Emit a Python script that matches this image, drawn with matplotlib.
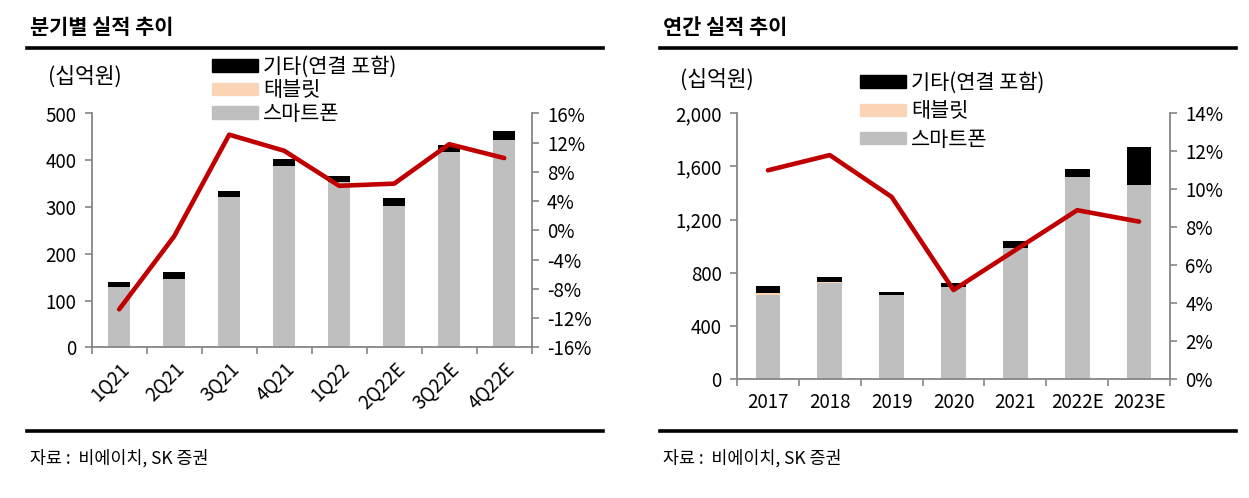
import numpy as np
import matplotlib.pyplot as plt
import matplotlib as mpl
from matplotlib.patches import Patch
from matplotlib.ticker import FuncFormatter, FixedLocator

plt.rcParams['font.family'] = ['Noto Sans CJK KR', 'DejaVu Sans']

# quarterly data (십억원, %)
quarters = ['1Q21', '2Q21', '3Q21', '4Q21', '1Q22', '2Q22E', '3Q22E', '4Q22E']
q_phone = [129, 147, 322, 387, 354, 303, 417, 444]
q_tablet = [1, 0, 0, 0, 0, 0, 0, 0]
q_other = [9, 14, 12, 15, 12, 17, 15, 19]
q_opm = [-10.8, -0.8, 13.1, 10.9, 6.1, 6.4, 11.8, 9.9]

# annual data
years = ['2017', '2018', '2019', '2020', '2021', '2022E', '2023E']
y_phone = [631, 724, 631, 696, 987, 1519, 1459]
y_tablet = [15, 10, 0, 0, 0, 0, 0]
y_other = [55, 35, 25, 26, 50, 64, 287]
y_opm = [11.0, 11.8, 9.6, 4.7, 6.8, 8.9, 8.3]

legend_labels = ['기타(연결 포함)', '태블릿', '스마트폰']

c_phone = '#BFBFBF'
c_tablet = '#FAD4B4'
c_other = '#000000'
c_line = '#C00000'
c_spine = '#868686'

W, H = 1249, 498
fig = plt.figure(figsize=(W / 100, H / 100), dpi=100)


def style_axes(ax, ax2, n):
    for a in (ax, ax2):
        a.spines['top'].set_visible(False)
        for s in ('left', 'right', 'bottom'):
            a.spines[s].set_color(c_spine)
            a.spines[s].set_linewidth(1.3)
    ax.spines['right'].set_visible(False)
    ax2.spines['left'].set_visible(False)
    ax2.spines['bottom'].set_visible(False)
    ax.tick_params(axis='y', colors=c_spine, length=5, width=1.2, labelcolor='black', labelsize=13.5, pad=6)
    ax2.tick_params(axis='y', colors=c_spine, length=5, width=1.2, labelcolor='black', labelsize=13.5, pad=6)
    # category boundary ticks on x
    ax.set_xlim(-0.5, n - 0.5)
    ax.xaxis.set_minor_locator(FixedLocator(np.arange(-0.5, n, 1.0)))
    ax.tick_params(axis='x', which='minor', length=5, width=1.2, color=c_spine)
    ax.tick_params(axis='x', which='major', length=0, labelsize=13.5)


def draw_bars(ax, phone, tablet, other, width):
    x = np.arange(len(phone))
    phone = np.array(phone)
    tablet = np.array(tablet)
    other = np.array(other)
    ax.bar(x, phone, width, color=c_phone, zorder=2)
    ax.bar(x, tablet, width, bottom=phone, color=c_tablet, zorder=2)
    ax.bar(x, other, width, bottom=phone + tablet, color=c_other, zorder=2)
    return x


handles = [Patch(color=c_other), Patch(color=c_tablet), Patch(color=c_phone)]
leg_kw = dict(frameon=False, fontsize=15, handlelength=2.2, handleheight=0.55,
              handletextpad=0.25, borderpad=0, borderaxespad=0)

# ---------------- left: quarterly ----------------
ax1 = fig.add_axes([91.7 / W, 1 - 347.3 / H, 440 / W, 233.8 / H])
x = draw_bars(ax1, q_phone, q_tablet, q_other, 0.39)
ax1.set_ylim(0, 500)
ax1.set_yticks(np.arange(0, 501, 100))
ax1.set_xticks(x)
ax1.set_xticklabels(quarters, rotation=45, ha='right', rotation_mode='anchor')
ax1b = ax1.twinx()
ax1b.plot(x, q_opm, color=c_line, lw=3.3, solid_capstyle='round', solid_joinstyle='round')
ax1b.set_ylim(-16, 16)
ax1b.set_yticks(np.arange(-16, 17, 4))
ax1b.yaxis.set_major_formatter(FuncFormatter(lambda v, p: '%d%%' % v))
style_axes(ax1, ax1b, len(quarters))
ax1.tick_params(axis='x', which='major', pad=8)

fig.legend(handles, legend_labels, loc='upper left', bbox_to_anchor=(212 / W, 1 - 56 / H),
           labelspacing=0.07, **leg_kw)
fig.text(48 / W, 1 - 77 / H, '(십억원)', fontsize=15.5, va='center', ha='left')

# ---------------- right: annual ----------------
ax2 = fig.add_axes([737 / W, 1 - 379.3 / H, 433 / W, 266 / H])
x = draw_bars(ax2, y_phone, y_tablet, y_other, 0.4)
ax2.set_ylim(0, 2000)
ax2.set_yticks(np.arange(0, 2001, 400))
ax2.yaxis.set_major_formatter(FuncFormatter(lambda v, p: '{:,.0f}'.format(v)))
ax2.set_xticks(x)
ax2.set_xticklabels(years)
ax2b = ax2.twinx()
ax2b.plot(x, y_opm, color=c_line, lw=3.3, solid_capstyle='round', solid_joinstyle='round')
ax2b.set_ylim(0, 14)
ax2b.set_yticks(np.arange(0, 15, 2))
ax2b.yaxis.set_major_formatter(FuncFormatter(lambda v, p: '%d%%' % v))
style_axes(ax2, ax2b, len(years))
ax2.tick_params(axis='x', which='major', pad=9)

fig.legend(handles, legend_labels, loc='upper left', bbox_to_anchor=(860 / W, 1 - 72 / H),
           labelspacing=0.3, **leg_kw)
fig.text(680 / W, 1 - 80 / H, '(십억원)', fontsize=15.5, va='center', ha='left')

# ---------------- titles, rules, sources ----------------
for x0, x1, title in [(27, 603, '분기별 실적 추이'), (660, 1236, '연간 실적 추이')]:
    fig.text((x0 + 3) / W, 1 - 27 / H, title, fontsize=15, fontweight='bold', va='center', ha='left')
    fig.add_artist(mpl.lines.Line2D([x0 / W, x1 / W], [1 - 48 / H, 1 - 48 / H], color='black', lw=2.6))
    fig.add_artist(mpl.lines.Line2D([x0 / W, x1 / W], [1 - 431 / H, 1 - 431 / H], color='black', lw=2.6))
    fig.text((x0 + 3) / W, 1 - 458 / H, '자료 :  비에이치, SK 증권', fontsize=12.5, va='center', ha='left')

fig.savefig('out.png', dpi=100)
